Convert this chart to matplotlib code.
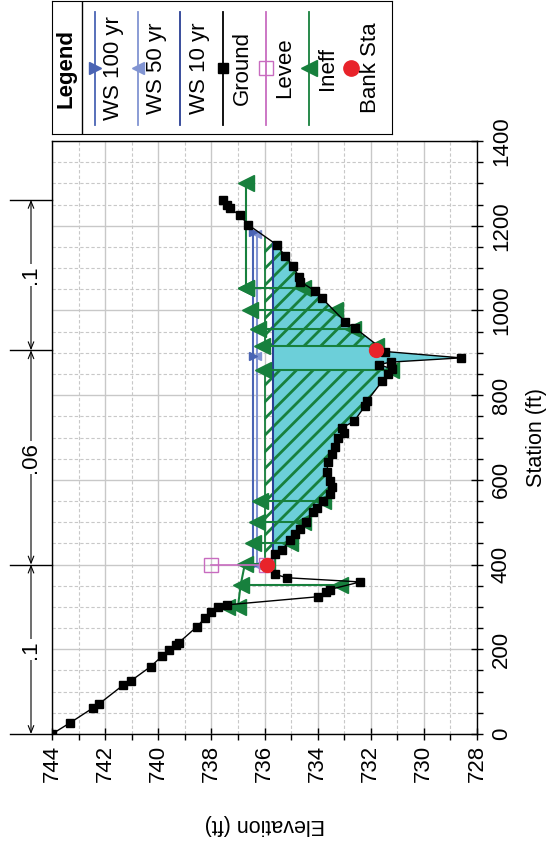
import numpy as np
import matplotlib.pyplot as plt

plt.rcParams['font.family'] = ['Liberation Sans', 'DejaVu Sans']
plt.rcParams['hatch.linewidth'] = 2.0

# ground points (station ft, elevation ft)
ground_sta = [0, 26, 61, 71, 115, 125, 159, 183, 198, 210, 216, 253, 273, 289, 300, 305,
              324, 336, 341, 359, 369, 377, 400, 426, 434, 457, 473, 485, 500, 524, 534,
              551, 567, 583, 598, 618, 642, 661, 677, 700, 711, 723, 738, 775, 786, 833,
              850, 862, 872, 878, 888, 903, 958, 973, 1029, 1046, 1068, 1080, 1104, 1129,
              1155, 1202, 1225, 1241, 1249, 1260]
ground_elev = [744.0, 743.33, 742.47, 742.23, 741.33, 741.04, 740.29, 739.87, 739.6, 739.32,
               739.22, 738.55, 738.25, 738.0, 737.75, 737.4, 734.0, 733.7, 733.55, 732.4,
               735.17, 735.6, 735.9, 735.6, 735.36, 735.04, 734.85, 734.67, 734.42, 734.16,
               734.04, 733.79, 733.53, 733.47, 733.53, 733.66, 733.6, 733.47, 733.35, 733.22,
               733.02, 733.08, 732.63, 732.21, 732.14, 731.57, 731.35, 731.2, 731.7, 731.25,
               728.6, 731.45, 732.58, 732.96, 733.84, 734.09, 734.66, 734.72, 734.91, 735.23,
               735.54, 736.61, 736.93, 737.31, 737.43, 737.56]

# water surfaces
ws100_sta = [400, 892, 1186]
ws100_elev = 736.42
ws50_sta = [400, 892, 1181]
ws50_elev = 736.30
ws10_sta = [400, 1161]
ws10_elev = 735.69

# levee and bank stations
levee_sta = [400, 400]
levee_elev = [738.0, 735.95]
bank_sta = [400, 906]
bank_elev = [735.9, 731.8]

# ineffective flow marks: station, elevation at the high end, elevation at the ground end
ineff_sta = [1053, 1000, 955, 917, 860, 549, 500, 451, 401, 351, 300]
ineff_hi = [736.7, 736.55, 736.25, 736.1, 736.05, 736.18, 736.3, 736.43, 736.74, 736.9, 737.0]
ineff_lo = [734.55, 733.35, 732.65, 731.8, 731.25, 733.8, 734.55, 735.05, 735.9, 733.15, 737.4]
ineff_top_sta = [1300, 1053]
ineff_top_elev = [736.7, 736.7]
ineff_left_sta = [401, 351, 300]
ineff_left_elev = [736.74, 736.9, 737.0]
ineff_blocks = [(418, 860), (917, 1172)]
ineff_block_elev = 736.0

# Manning's n values along the section
n_sta = [0, 400, 906, 1261]
n_vals = ['.1', '.06', '.1']

green = '#17803d'
c100, c50, c10 = '#4a64b4', '#8194d2', '#2a3f94'
pink = '#c86cc0'
cyan = '#6ccfd9'
red = '#e8232a'

gs = np.array(ground_sta, float)
ge = np.array(ground_elev, float)

fig = plt.figure(figsize=(5.53, 8.51), dpi=100)
ax = fig.add_axes([52 / 553, 1 - 734 / 851, 425 / 553, 593 / 851])

# water fill for the 10 yr profile
m = gs >= 400
ax.fill_betweenx(gs[m], ge[m], ws10_elev, where=ge[m] < ws10_elev, interpolate=True,
                 facecolor=cyan, edgecolor='none', zorder=2)

# hatched ineffective blocks
for s0, s1 in ineff_blocks:
    inside = gs[(gs > s0) & (gs < s1)]
    seg = np.concatenate([[s0], inside, [s1]])
    gseg = np.minimum(np.interp(seg, gs, ge), ineff_block_elev)
    ax.fill_betweenx(seg, gseg, ineff_block_elev, facecolor='none', edgecolor=green,
                     hatch='//', lw=0, zorder=3)
    ax.plot([ineff_block_elev, ineff_block_elev], [s0, s1], color=green, lw=1.3, zorder=4)

# water surface lines
ax.plot([ws10_elev] * len(ws10_sta), ws10_sta, color=c10, lw=1.5, zorder=5)
ax.plot([ws50_elev] * len(ws50_sta), ws50_sta, color=c50, lw=1.5, marker='<', ms=6, zorder=5)
ax.plot([ws100_elev] * len(ws100_sta), ws100_sta, color=c100, lw=1.5, marker='>', ms=6, zorder=5)

# ineffective flow lines
ax.plot(ineff_top_elev, ineff_top_sta, color=green, lw=1.5, marker='<', ms=11, zorder=6)
ax.plot(ineff_left_elev, ineff_left_sta, color=green, lw=1.5, zorder=6)
for s, hi, lo in zip(ineff_sta, ineff_hi, ineff_lo):
    ax.plot([hi, lo], [s, s], color=green, lw=1.5, marker='<', ms=11, zorder=6)

# levee
ax.plot(levee_elev, levee_sta, color=pink, lw=1.2, marker='s', ms=10, mfc='none', mec=pink, zorder=6)

# ground
ax.plot(ge, gs, color='k', lw=1, marker='s', ms=5.5, zorder=7)

# bank stations
ax.plot(bank_elev, bank_sta, ls='none', marker='o', ms=10, color=red, zorder=8)

ax.set_xlim(744, 728)
ax.set_ylim(0, 1400)
ax.set_xticks(np.arange(744, 727, -2))
ax.set_xticks(np.arange(743, 728, -2), minor=True)
ax.set_yticks(np.arange(0, 1401, 200))
ax.set_yticks(np.arange(50, 1400, 50), minor=True)
ax.grid(which='major', color='#c8c8c8', lw=1, ls='-')
ax.grid(which='minor', color='#c8c8c8', lw=0.8, ls=(0, (3, 2)))
ax.set_axisbelow(True)
ax.yaxis.tick_right()
ax.yaxis.set_label_position('right')
ax.tick_params(which='major', direction='inout', length=8, width=1, labelsize=16)
ax.tick_params(which='minor', direction='out', length=4, width=1)
ax.tick_params(axis='x', labelrotation=90, pad=4)
ax.tick_params(axis='y', labelrotation=90, pad=6)
for lab in ax.get_yticklabels():
    lab.set_va('center')
for sp in ax.spines.values():
    sp.set_linewidth(1)

ax.set_xlabel('Elevation (ft)', rotation=180, fontsize=15.5)
ax.xaxis.set_label_coords(0.5, -0.135)
ax.set_ylabel('Station (ft)', rotation=90, fontsize=15.5)
ax.yaxis.set_label_coords(1.115, 0.5)

# n value dimension lines on the left
tr = ax.get_yaxis_transform()
xd = -21 / 425
for s in n_sta:
    ax.plot([-42 / 425, 0], [s, s], color='k', lw=1, transform=tr, clip_on=False)
for i, val in enumerate(n_vals):
    s0, s1 = n_sta[i], n_sta[i + 1]
    ax.annotate('', xy=(xd, s1), xytext=(xd, s0), xycoords=tr, textcoords=tr,
                arrowprops=dict(arrowstyle='<->,head_length=0.5,head_width=0.2', lw=0.8,
                                shrinkA=0, shrinkB=0, color='k'))
    ax.text(xd, (s0 + s1) / 2, val, transform=tr, rotation=90, ha='center', va='center',
            fontsize=16, bbox=dict(fc='white', ec='none', pad=1))

# legend box
leg_labels = ['WS 100 yr', 'WS 50 yr', 'WS 10 yr', 'Ground', 'Levee', 'Ineff', 'Bank Sta']
leg_colors = [c100, c50, c10, 'k', pink, green, red]
leg_markers = ['>', '<', '', 's', 's', '<', 'o']
leg_ms = [8, 8, 0, 7, 10, 11, 11]
leg_fill = [True, True, True, True, False, True, True]
leg_line = [True, True, True, True, True, True, False]

lax = fig.add_axes([52 / 553, 1 - 134 / 851, 340 / 553, 133 / 851])
lax.set_xlim(0, 340)
lax.set_ylim(133, 0)
lax.set_xticks([])
lax.set_yticks([])
lax.plot([30, 30], [0, 133], color='k', lw=1)
lax.text(14, 67, 'Legend', rotation=90, ha='center', va='center', fontsize=16, fontweight='bold')
for i, lbl in enumerate(leg_labels):
    x = 43 + i * 42.7
    if leg_line[i]:
        lax.plot([x, x], [11, 124], color=leg_colors[i], lw=1.3)
    if leg_markers[i]:
        lax.plot([x], [67], marker=leg_markers[i], ms=leg_ms[i], color=leg_colors[i],
                 mfc=leg_colors[i] if leg_fill[i] else 'none', mec=leg_colors[i])
    lax.text(x + 19, 67, lbl, rotation=90, ha='center', va='center', fontsize=16)

fig.savefig('out.png', dpi=100)
